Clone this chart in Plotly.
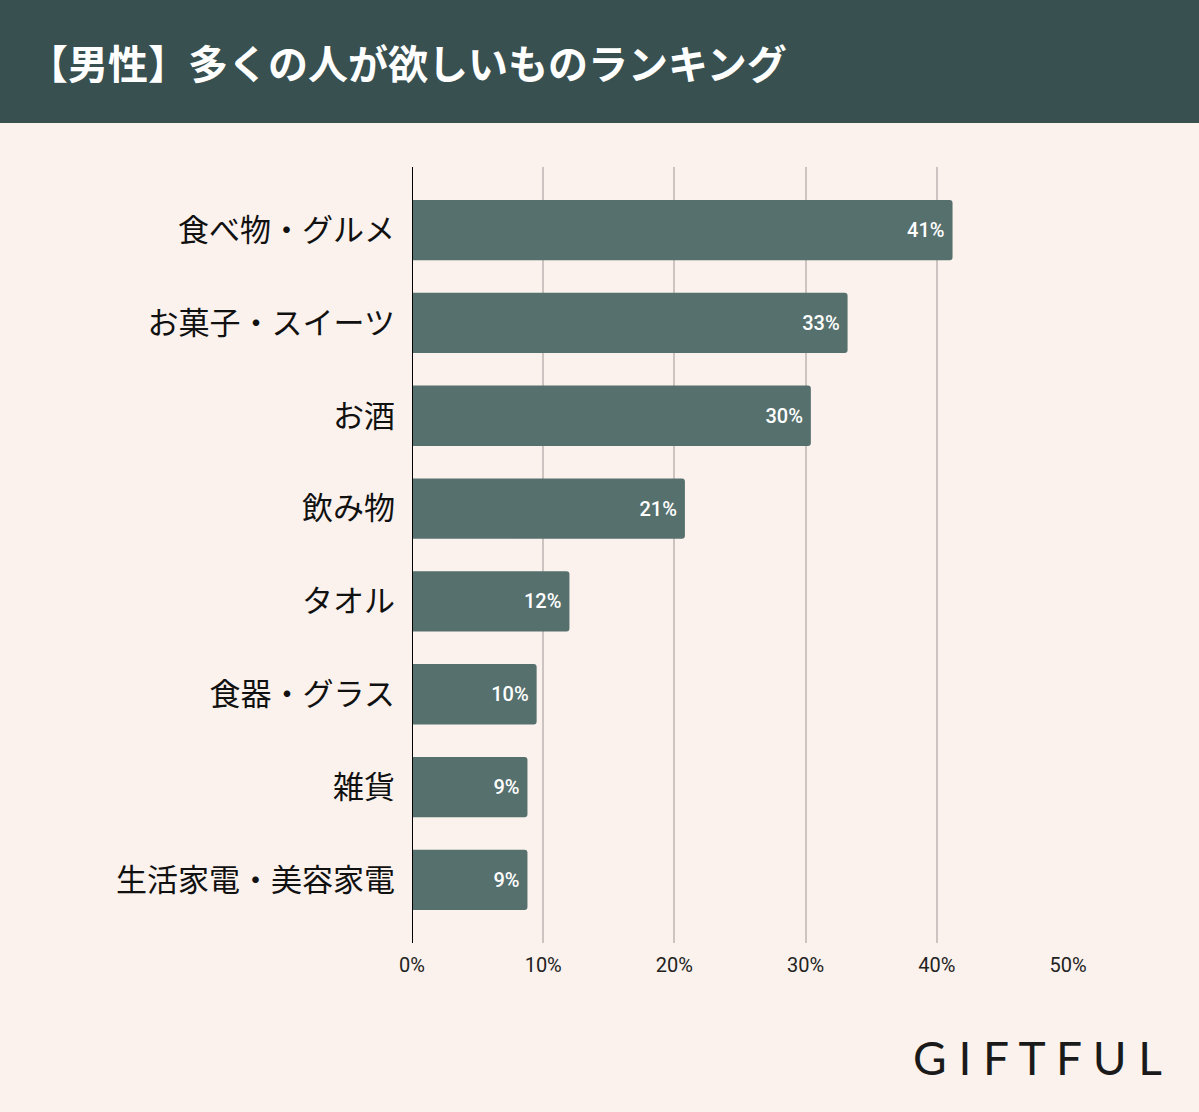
import plotly.graph_objects as go

# data
categories = ["食べ物・グルメ", "お菓子・スイーツ", "お酒", "飲み物", "タオル",
              "食器・グラス", "雑貨", "生活家電・美容家電"]
values = [41.2, 33.2, 30.4, 20.8, 12.0, 9.5, 8.8, 8.8]
labels = ["41%", "33%", "30%", "21%", "12%", "10%", "9%", "9%"]
tick_vals = [0, 10, 20, 30, 40, 50]
tick_text = ["0%", "10%", "20%", "30%", "40%", "50%"]

BG = "#fbf2ed"
BANNER = "#38504f"
BAR = "#56706e"
JP = "Noto Sans CJK JP"

fig = go.Figure()

fig.add_trace(go.Bar(
    x=values, y=categories, orientation="h",
    marker=dict(color=BAR, line=dict(width=0)),
    width=0.65,
    text=labels, texttemplate="%{text}\u00a0", textposition="inside",
    insidetextanchor="end",
    textfont=dict(family="Roboto", size=20, color="white", weight=500),
    cliponaxis=False, hoverinfo="skip",
))

fig.update_layout(
    width=1199, height=1112,
    paper_bgcolor=BG, plot_bgcolor=BG,
    margin=dict(l=412, r=131, t=167, b=169),
    showlegend=False,
    barcornerradius=3,
    xaxis=dict(
        range=[0, 50], tickvals=tick_vals, ticktext=tick_text,
        showgrid=True, gridcolor="#cdc3c1", gridwidth=2,
        zeroline=False, showline=False, ticks="",
        tickfont=dict(family="Roboto", size=20, color="#222"),
        ticklabelstandoff=8,
    ),
    yaxis=dict(
        autorange=False, range=[7.68, -0.68],
        showgrid=False, zeroline=False, ticks="",
        showline=False,
        tickfont=dict(family=JP, size=31, color="#111"),
        ticklabelstandoff=16,
    ),
    shapes=[
        dict(type="rect", xref="paper", yref="paper", x0=-1, x1=2,
             y0=1.0 + 44 / 776, y1=1.5, fillcolor=BANNER, line=dict(width=0),
             layer="below"),
        dict(type="line", xref="x", yref="paper", x0=0, x1=0, y0=0, y1=1,
             line=dict(color="black", width=2)),
    ],
    annotations=[
        dict(text="【男性】多くの人が欲しいものランキング", xref="paper", yref="paper",
             x=0, y=1, xanchor="left", yanchor="middle", showarrow=False,
             font=dict(family=JP, size=40, color="white", weight="bold")),
        dict(text="G I F T F U L", xref="paper", yref="paper",
             x=1, y=0, xanchor="right", yanchor="middle", showarrow=False,
             font=dict(family="Lato", size=46, color="#1a1a1a", weight=400)),
    ],
)

# place title and logo in pixel terms
fig.layout.annotations[0].update(x=-(412 - 26) / 656, y=1 + (167 - 62) / 776)
fig.layout.annotations[1].update(x=(1164 - 412) / 656, y=-(1057 - 943) / 776)

# drop the page's default body margin so the figure sits at the window origin
fig.write_html("out.html", config={"displayModeBar": False},
               post_script="document.body.style.margin='0';")
